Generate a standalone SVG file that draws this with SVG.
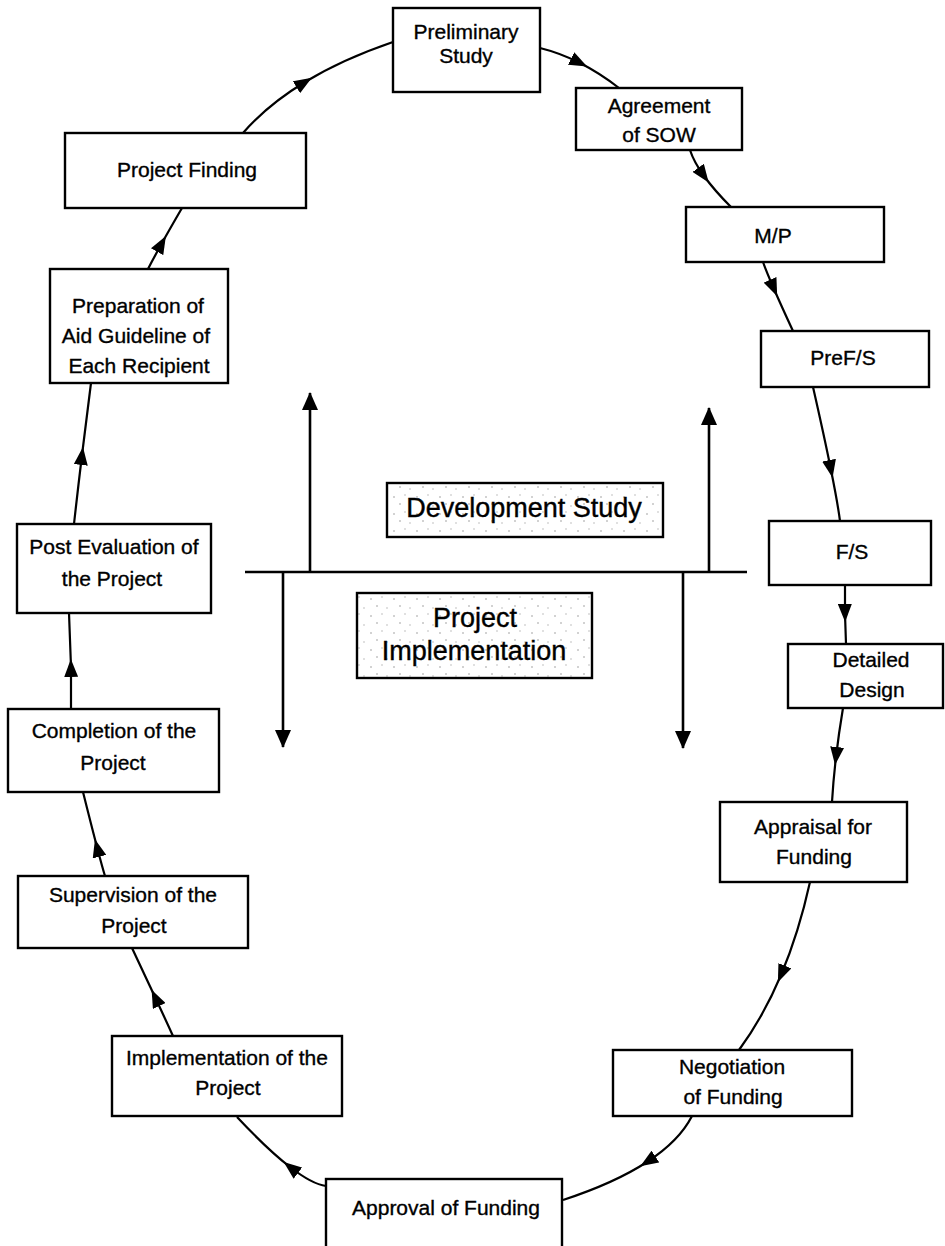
<svg xmlns="http://www.w3.org/2000/svg" width="945" height="1246" viewBox="0 0 945 1246">
  <style>
    .box { fill: #fff; stroke: #000; stroke-width: 2.4; }
    .band { fill: url(#speckle); stroke: #000; stroke-width: 2.4; }
    .lbl { font-family: "Liberation Sans", Arial, sans-serif; font-size: 21px; fill: #000; stroke: #000; stroke-width: 0.35; text-anchor: middle; }
    .big { font-family: "Liberation Sans", Arial, sans-serif; font-size: 27px; fill: #000; stroke: #000; stroke-width: 0.4; text-anchor: middle; }
    .flow { fill: none; stroke: #000; stroke-width: 2.2; marker-mid: url(#mid-arrow); }
    .axis { fill: none; stroke: #000; stroke-width: 2.4; }
    .phase { fill: none; stroke: #000; stroke-width: 2.6; marker-end: url(#end-arrow); }
  </style>
  <defs>
    <marker id="mid-arrow" viewBox="0 0 18 14" refX="10" refY="7" markerWidth="18" markerHeight="14" markerUnits="userSpaceOnUse" orient="auto">
      <path d="M0,0 L18,7 L0,14 Z" fill="#000"/>
    </marker>
    <marker id="end-arrow" viewBox="0 0 18 16" refX="17" refY="8" markerWidth="18" markerHeight="16" markerUnits="userSpaceOnUse" orient="auto">
      <path d="M0,0 L18,8 L0,16 Z" fill="#000"/>
    </marker>
    <pattern id="speckle" width="23" height="17" patternUnits="userSpaceOnUse">
      <rect width="23" height="17" fill="#fff"/>
      <circle cx="3" cy="4" r="0.8" fill="#999"/>
      <circle cx="14" cy="2" r="0.7" fill="#aaa"/>
      <circle cx="9" cy="11" r="0.8" fill="#999"/>
      <circle cx="19" cy="13" r="0.7" fill="#aaa"/>
    </pattern>
  </defs>

  <!-- cycle connectors -->
  <g id="connectors">
    <path class="flow" d="M243,133 Q267.5,104.75 305,82 T393,42"/>
    <path class="flow" d="M540,48 Q560.25,53 580,63 T619,88"/>
    <path class="flow" d="M690,150 Q693.75,161.75 704,176 T731,207"/>
    <path class="flow" d="M763,262 Q766.5,271.75 774,289 T793,331"/>
    <path class="flow" d="M813,387 Q824.25,436.5 831,470 T840,521"/>
    <path class="flow" d="M845,585 L845,614 L846,644"/>
    <path class="flow" d="M843,708 Q838.75,733.5 836,757 T832,802"/>
    <path class="flow" d="M810,882 Q798.75,933 781,975 T739,1050"/>
    <path class="flow" d="M692,1116 Q679.25,1141 647,1162 T563,1200"/>
    <path class="flow" d="M326,1186 Q312.25,1184.25 290,1167 T237,1117"/>
    <path class="flow" d="M173,1036 Q165.25,1019 155,997 T132,948"/>
    <path class="flow" d="M105,876 Q102.5,868 97,847 T83,792"/>
    <path class="flow" d="M71,709 L71,667 L69,613"/>
    <path class="flow" d="M74,524 Q77.75,490.25 82,455 T91,383"/>
    <path class="flow" d="M148,269 Q153.5,258.25 162,243 T182,208"/>

    <!-- phase divider and direction arrows -->
    <path class="axis" d="M245,572 L747,572"/>
    <path class="phase" d="M310,572 L310,393"/>
    <path class="phase" d="M709,572 L709,408"/>
    <path class="phase" d="M283,572 L283,747"/>
    <path class="phase" d="M683,572 L683,748"/>
  </g>

  <g id="preliminary-study">
    <rect class="box" x="393" y="8" width="147" height="84"/>
    <text class="lbl" x="466" y="39">Preliminary</text>
    <text class="lbl" x="466" y="63">Study</text>
  </g>
  <g id="agreement-of-sow">
    <rect class="box" x="576" y="88" width="166" height="62"/>
    <text class="lbl" x="659" y="113">Agreement</text>
    <text class="lbl" x="659" y="142">of SOW</text>
  </g>
  <g id="mp">
    <rect class="box" x="686" y="207" width="198" height="55"/>
    <text class="lbl" x="773" y="243">M/P</text>
  </g>
  <g id="pref-s">
    <rect class="box" x="761" y="331" width="168" height="56"/>
    <text class="lbl" x="843" y="365">PreF/S</text>
  </g>
  <g id="fs">
    <rect class="box" x="769" y="521" width="162" height="64"/>
    <text class="lbl" x="852" y="559">F/S</text>
  </g>
  <g id="detailed-design">
    <rect class="box" x="788" y="644" width="155" height="64"/>
    <text class="lbl" x="871" y="667">Detailed</text>
    <text class="lbl" x="872" y="697">Design</text>
  </g>
  <g id="appraisal-for-funding">
    <rect class="box" x="720" y="802" width="187" height="80"/>
    <text class="lbl" x="813" y="834">Appraisal for</text>
    <text class="lbl" x="814" y="864">Funding</text>
  </g>
  <g id="negotiation-of-funding">
    <rect class="box" x="613" y="1050" width="239" height="66"/>
    <text class="lbl" x="732" y="1074">Negotiation</text>
    <text class="lbl" x="733" y="1104">of Funding</text>
  </g>
  <g id="approval-of-funding">
    <rect class="box" x="326" y="1179" width="236" height="80"/>
    <text class="lbl" x="446" y="1215">Approval of Funding</text>
  </g>
  <g id="implementation-of-the-project">
    <rect class="box" x="112" y="1036" width="230" height="80"/>
    <text class="lbl" x="227" y="1065">Implementation of the</text>
    <text class="lbl" x="228" y="1095">Project</text>
  </g>
  <g id="supervision-of-the-project">
    <rect class="box" x="18" y="876" width="230" height="72"/>
    <text class="lbl" x="133" y="902">Supervision of the</text>
    <text class="lbl" x="134" y="933">Project</text>
  </g>
  <g id="completion-of-the-project">
    <rect class="box" x="8" y="709" width="211" height="83"/>
    <text class="lbl" x="114" y="738">Completion of the</text>
    <text class="lbl" x="113" y="770">Project</text>
  </g>
  <g id="post-evaluation">
    <rect class="box" x="17" y="524" width="194" height="89"/>
    <text class="lbl" x="114" y="554">Post Evaluation of</text>
    <text class="lbl" x="112" y="586">the Project</text>
  </g>
  <g id="aid-guideline">
    <rect class="box" x="50" y="269" width="178" height="114"/>
    <text class="lbl" x="138" y="313">Preparation of</text>
    <text class="lbl" x="136" y="343">Aid Guideline of</text>
    <text class="lbl" x="139" y="373">Each Recipient</text>
  </g>
  <g id="project-finding">
    <rect class="box" x="65" y="133" width="241" height="75"/>
    <text class="lbl" x="187" y="177">Project Finding</text>
  </g>

  <g id="development-study">
    <rect class="band" x="387" y="483" width="276" height="54"/>
    <text class="big" x="524" y="517">Development Study</text>
  </g>
  <g id="project-implementation">
    <rect class="band" x="357" y="593" width="235" height="85"/>
    <text class="big" x="475" y="627">Project</text>
    <text class="big" x="474" y="660">Implementation</text>
  </g>
</svg>
